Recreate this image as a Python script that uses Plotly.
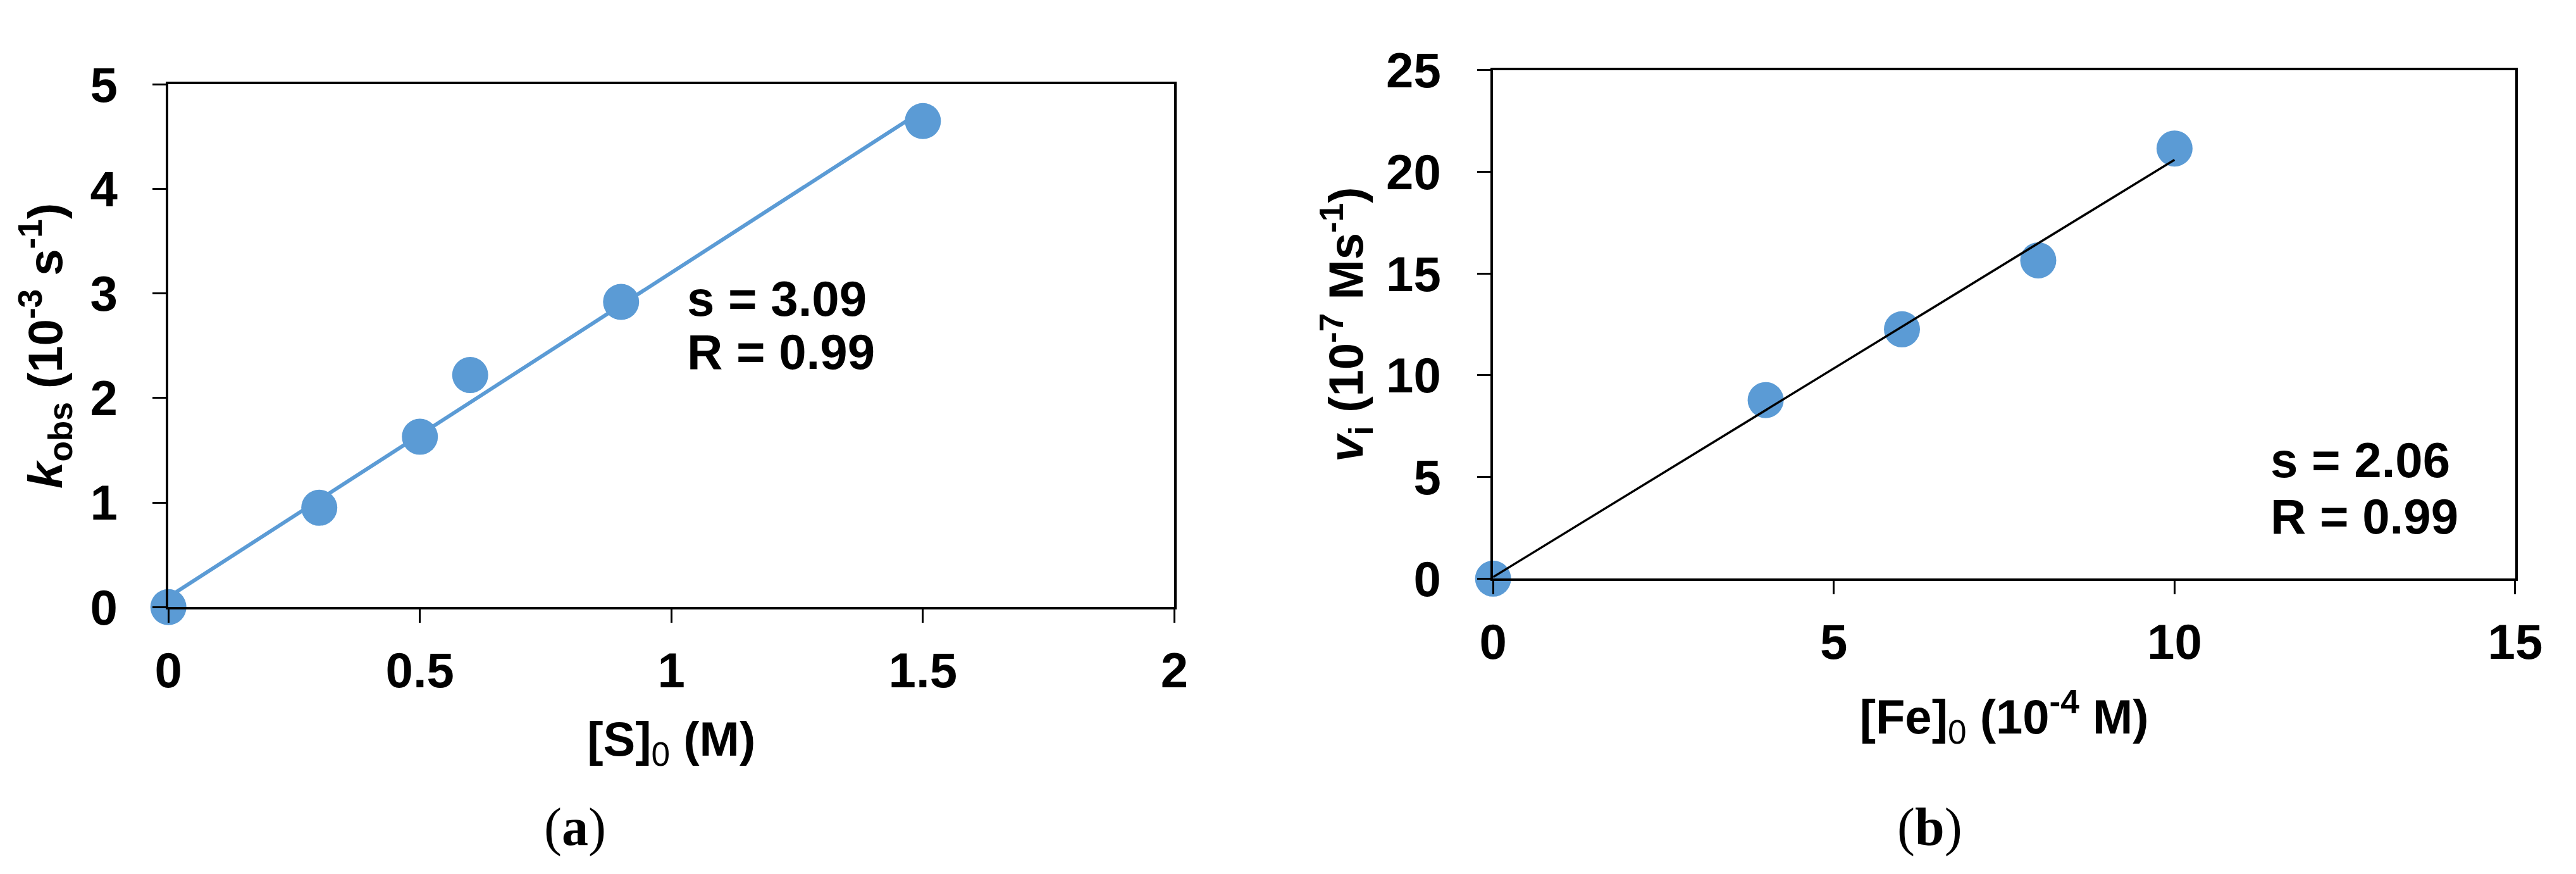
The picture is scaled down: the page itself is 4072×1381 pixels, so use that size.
import numpy as np
import plotly.graph_objects as go

# ---------------- data ----------------
s0_conc = [0, 0.3, 0.5, 0.6, 0.9, 1.5]          # [S]0 (M)
k_obs = [0.0, 0.95, 1.63, 2.22, 2.92, 4.65]      # kobs (10^-3 s^-1)

fe0_conc = [0, 4, 6, 8, 10]                      # [Fe]0 (10^-4 M)
v_i = [0.0, 8.78, 12.26, 15.65, 21.15]           # vi (10^-7 M s^-1)

ann_a = ["s = 3.09", "R = 0.99"]
ann_b = ["s = 2.06", "R = 0.99"]

BLUE = "#5B9BD5"
W, H = 4072, 1381
SANS = "Liberation Sans, Arial, sans-serif"
SERIF = "Liberation Serif, Times New Roman, serif"


def fit_line(x, y):
    m, b = np.polyfit(x, y, 1)
    xs = [min(x), max(x)]
    return xs, [m * v + b for v in xs]


fig = go.Figure()

# panel (a)
lx, ly = fit_line(s0_conc, k_obs)
fig.add_trace(go.Scatter(x=lx, y=ly, mode="lines", line=dict(color=BLUE, width=6),
                         xaxis="x", yaxis="y", showlegend=False, cliponaxis=False))
fig.add_trace(go.Scatter(x=s0_conc, y=k_obs, mode="markers",
                         marker=dict(color=BLUE, size=57, line=dict(width=0)),
                         xaxis="x", yaxis="y", showlegend=False, cliponaxis=False))

# panel (b)
rx, ry = fit_line(fe0_conc, v_i)
fig.add_trace(go.Scatter(x=fe0_conc, y=v_i, mode="markers",
                         marker=dict(color=BLUE, size=57, line=dict(width=0)),
                         xaxis="x2", yaxis="y2", showlegend=False, cliponaxis=False))
fig.add_trace(go.Scatter(x=rx, y=ry, mode="lines", line=dict(color="black", width=3.5),
                         xaxis="x2", yaxis="y2", showlegend=False, cliponaxis=False))

tickfont = dict(family=SANS, size=78, color="black", weight="bold")
titlefont = dict(family=SANS, size=76, color="black", weight="bold")

common = dict(showline=True, linecolor="black", linewidth=3.5, mirror=True,
              ticks="outside", ticklen=21, tickwidth=3, tickcolor="black",
              showgrid=False, zeroline=False, tickfont=tickfont)


def px_x(p):
    return p / W


def px_y(p):
    return 1 - p / H


SUB0 = '<sub><span style="font-weight:normal">0</span></sub>'

fig.update_layout(
    width=W, height=H,
    margin=dict(l=0, r=0, t=0, b=0),
    paper_bgcolor="white", plot_bgcolor="white",
    xaxis=dict(domain=[px_x(240), px_x(1856)], range=[0, 2], dtick=0.5,
               anchor="y", ticklabelstandoff=8,
               title=dict(text="[S]" + SUB0 + " (M)", font=titlefont, standoff=40),
               **common),
    yaxis=dict(domain=[px_y(969), px_y(87)], range=[0, 5], dtick=1,
               anchor="x", ticklabelstandoff=40,
               title=dict(text="<i>k</i><sub>obs</sub> (10<sup>-3</sup> s<sup>-1</sup>)",
                          font=titlefont, standoff=20),
               **common),
    xaxis2=dict(domain=[px_x(2368), px_x(4010)], range=[0, 15], dtick=5,
                anchor="y2", ticklabelstandoff=8,
                title=dict(text="[Fe]" + SUB0 + " (10<sup>-4</sup> M)", font=titlefont, standoff=50),
                **common),
    yaxis2=dict(domain=[px_y(921), px_y(63)], range=[0, 25], dtick=5,
                anchor="x2", ticklabelstandoff=42,
                title=dict(text="<i>v</i><sub>i</sub> (10<sup>-7</sup> Ms<sup>-1</sup>)",
                           font=titlefont, standoff=12),
                **common),
)

annfont = dict(family=SANS, size=78, color="black", weight="bold")
annotations = []
for txt, yv in zip(ann_a, [2.95, 2.44]):
    annotations.append(dict(x=1.028, y=yv, xref="x", yref="y", text=txt, showarrow=False,
                            xanchor="left", yanchor="middle", font=annfont))
for txt, yv in zip(ann_b, [5.83, 3.06]):
    annotations.append(dict(x=11.39, y=yv, xref="x2", yref="y2", text=txt, showarrow=False,
                            xanchor="left", yanchor="middle", font=annfont))
capfont = dict(family=SERIF, size=84, color="black")
annotations.append(dict(x=px_x(893), y=px_y(1340), xref="paper", yref="paper",
                        text="(<b>a</b>)", showarrow=False, xanchor="center",
                        yanchor="middle", font=capfont))
annotations.append(dict(x=px_x(3069), y=px_y(1340), xref="paper", yref="paper",
                        text="(<b>b</b>)", showarrow=False, xanchor="center",
                        yanchor="middle", font=capfont))
fig.update_layout(annotations=annotations)

fig.write_html("out.html")
